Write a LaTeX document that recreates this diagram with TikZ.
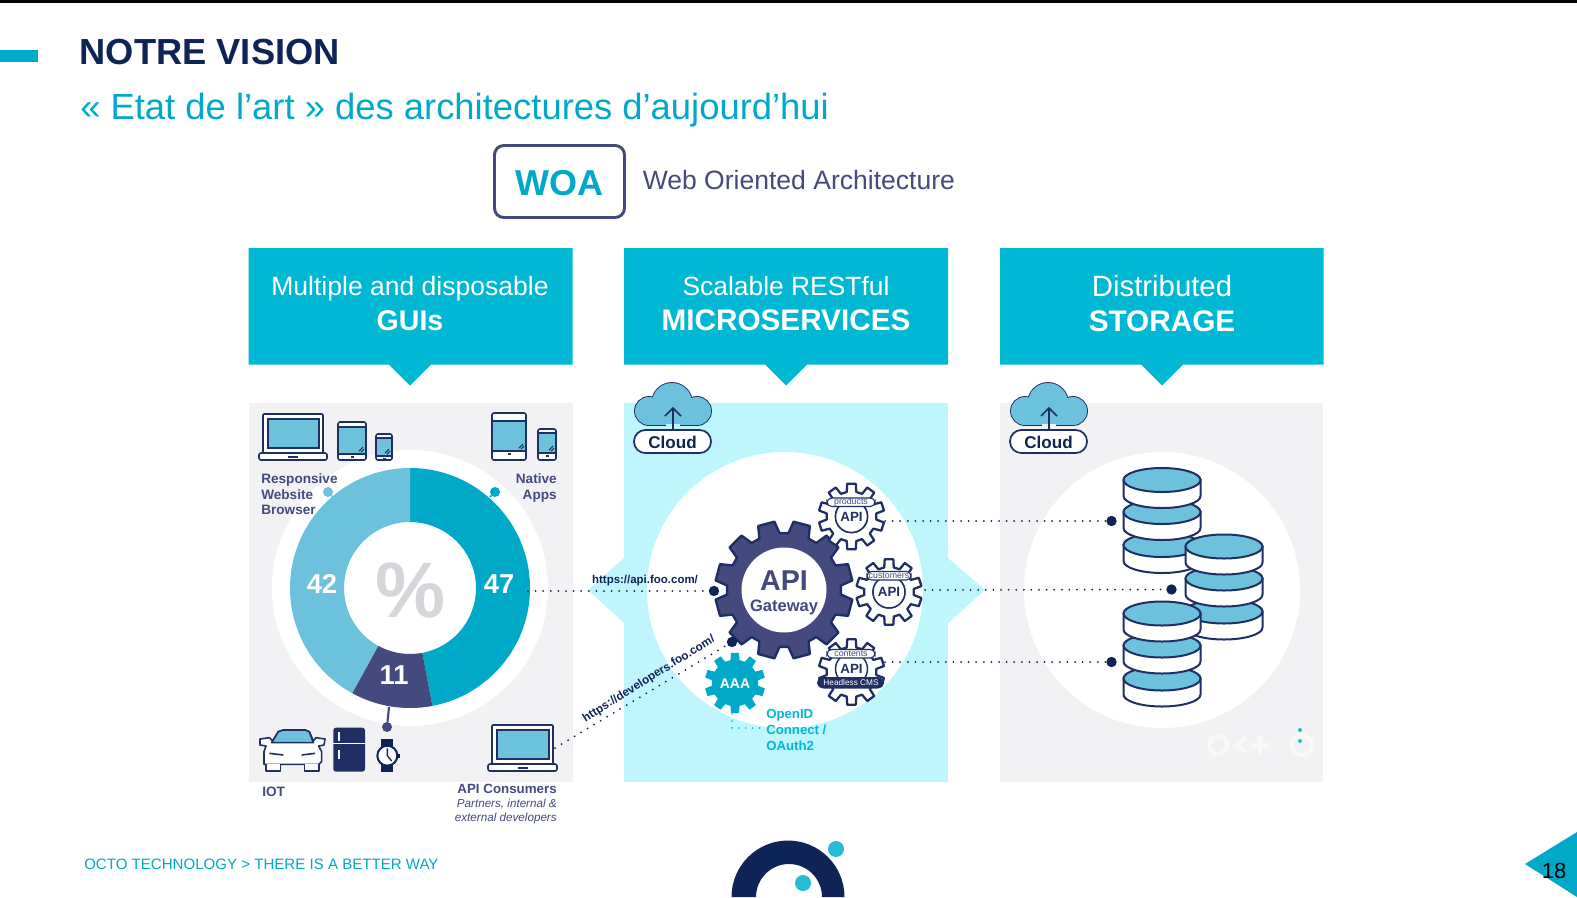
\documentclass[tikz,border=0pt]{standalone}
\usepackage{fontspec}
\setmainfont{Liberation Sans}
\definecolor{navy}{HTML}{0F2456}
\definecolor{ink}{HTML}{1F2F63}
\definecolor{plum}{HTML}{444A7D}
\definecolor{teal}{HTML}{00B8D4}
\definecolor{tealb}{HTML}{00A9C7}
\definecolor{sky}{HTML}{6CC1DC}
\definecolor{pale}{HTML}{BFF6FE}
\definecolor{panel}{HTML}{F2F2F5}
\definecolor{pct}{HTML}{D6D6DA}
\definecolor{logodot}{HTML}{26BCD7}
\newcommand{\fsz}[1]{\fontsize{#1pt}{#1pt}\selectfont}
\tikzset{
  lbl/.style={inner sep=0pt,anchor=base},
  lbll/.style={inner sep=0pt,anchor=base west},
  lblr/.style={inner sep=0pt,anchor=base east},
  dotline/.style={navy,line width=1.5pt,line cap=round,dash pattern=on 0pt off 5.7pt},
  tealline/.style={teal,line width=1.4pt,line cap=round,dash pattern=on 0pt off 5.2pt},
  bigdot/.style={circle,fill=navy,inner sep=0pt,minimum size=7.8pt},
  pill/.style={rounded corners=3.5pt,draw=ink,line width=0.8pt,fill=white},
  icon/.style={draw=ink,line width=1.2pt,line join=round},
  disk/.style={draw=ink,line width=1.5pt},
}
% gear: cx cy teeth Ro Rr offset baseHalf tipHalf style
\newcommand{\gearat}[9]{%
  \draw[shift={(#1,#2)},#9] ({#6-#7}:#5)
    \foreach \gi in {1,...,#3} {
      -- ({#6+(\gi-1)*360/#3-#7}:#5) -- ({#6+(\gi-1)*360/#3-#8}:#4)
      -- ({#6+(\gi-1)*360/#3+#8}:#4) -- ({#6+(\gi-1)*360/#3+#7}:#5)
    } -- cycle;}
% cloud: x offset from the left-hand cloud, background colour, node name
\newcommand{\cloudat}[3]{%
  \begin{scope}[xshift=#1*0.75pt]
    \draw[ink,line width=1.4pt] (649,411) circle (14) (672,403) circle (20) (697,411) circle (14) (649,425) -- (697,425);
    \fill[sky] (649,411) circle (14);
    \fill[sky] (672,403) circle (20);
    \fill[sky] (697,411) circle (14);
    \fill[sky] (649,405) rectangle (697,425);
    \fill[#2] (666,424) rectangle (680,430);
    \draw[ink,line width=1.2pt] (673,430) -- (673,409) (665,416) -- (673,408) -- (681,416);
    \draw[ink,line width=1.3pt,fill=white,rounded corners=8.5pt] (634,430) rectangle (711,453);
    \node[inner sep=0pt,navy,font=\bfseries\fsz{12.8}] (#3) at (672.5,442) {Cloud};
  \end{scope}}
% tablet: x1 y1 x2 y2 screen top, screen bottom
\newcommand{\tabletat}[6]{%
  \draw[icon,fill=white,rounded corners=1.5pt] (#1,#2) rectangle (#3,#4);
  \fill[sky] (#1+0.8,#5) rectangle (#3-0.8,#6);
  \draw[ink,line width=0.8pt] (#1,#5) -- (#3,#5) (#1,#6) -- (#3,#6);
  \draw[ink,line width=0.8pt] (#3-7,#6-3) -- (#3-3,#6-7) (#3-5,#6-2) -- (#3-2,#6-5);
  \fill[ink] ({(#1+#3)/2-1.5},#6+2) rectangle ({(#1+#3)/2+1.5},#6+3.5);}
% laptop: x1 y1 x2 y2 (lid) ; base runs 4 wider
\newcommand{\laptopat}[4]{%
  \draw[icon,fill=white] (#1,#4) -- (#1,#2+1) -- (#1+1,#2) -- (#3-1,#2) -- (#3,#2+1) -- (#3,#4);
  \draw[ink,line width=0.9pt,fill=sky] (#1+5,#2+5) rectangle (#3-4,#4-4);
  \draw[icon,fill=white,rounded corners=1.5pt] (#1-4,#4+1) -- (#3+4,#4+1) -- (#3+4,#4+8) -- (#1-4,#4+8) -- cycle;
  \fill[ink] ({(#1+#3)/2-5},#4+4) rectangle ({(#1+#3)/2+5},#4+5.5);}
% database disk: cx, top-ellipse cy
\newcommand{\diskat}[2]{%
  \draw[disk,fill=white] (#1-38.5,#2) -- (#1-38.5,#2+16) arc[start angle=180,end angle=0,x radius=38.5,y radius=12] -- (#1+38.5,#2) -- cycle;
  \draw[disk,fill=sky] (#1,#2) ellipse [x radius=38.5,y radius=12];}
\newcommand{\stackat}[2]{\diskat{#1}{#2+65}\diskat{#1}{#2+32}\diskat{#1}{#2}}
\begin{document}
\begin{tikzpicture}[x=0.75pt,y=-0.75pt]
\useasboundingbox (0,0) rectangle (1577,897);
\fill[white] (0,0) rectangle (1577,897);
\fill[black] (0,0) rectangle (1577,2.5);
\fill[tealb] (0,49.5) rectangle (38,61.5);
\node[lbll,navy,font=\bfseries\fsz{27.2}] (title) at (79.5,64.5) {NOTRE VISION};
\node[lbll,tealb,font=\fsz{27.3}] (sub) at (80,119) {« Etat de l’art » des architectures d’aujourd’hui};
\draw[plum,line width=2.2pt,rounded corners=7pt] (494.5,145.5) rectangle (624.5,217.5);
\node[lbl,tealb,font=\bfseries\fsz{27}] (woa) at (559.5,195) {WOA};
\node[lbll,plum,font=\fsz{19.9}] (woat) at (642.5,189) {Web Oriented Architecture};

% panels
\fill[panel] (248.5,403) rectangle (573,782);
\fill[pale] (624,403) rectangle (948,782);
\fill[pale] (624,558) -- (588,590) -- (624,623) -- cycle;
\fill[pale] (948,558) -- (985,590) -- (948,623) -- cycle;
\fill[panel] (1000,403) rectangle (1323,782);
\fill[white] (410,588) circle (138);
\fill[white] (785,590) circle (138);
\fill[white] (1162,590) circle (138);

% headers
\foreach \hl/\hc/\hr in {248.5/410/572.5,624/786/948,1000/1162/1323.5}
  \fill[teal] (\hl,248) -- (\hr,248) -- (\hr,364.5) -- (\hc+21,364.5) -- (\hc,385.5) -- (\hc-21,364.5) -- (\hl,364.5) -- cycle;
\node[lbl,white,font=\fsz{19.9}] (h1a) at (410,295.5) {Multiple and disposable};
\node[lbl,white,font=\bfseries\fsz{21.4}] (h1b) at (410,330) {GUIs};
\node[lbl,white,font=\fsz{19.8}] (h2a) at (786,295.5) {Scalable RESTful};
\node[lbl,white,font=\bfseries\fsz{22.3}] (h2b) at (786,330) {MICROSERVICES};
\node[lbl,white,font=\fsz{22}] (h3a) at (1162,296) {Distributed};
\node[lbl,white,font=\bfseries\fsz{22.3}] (h3b) at (1162,331) {STORAGE};

% donut
\fill[tealb] (410,468) arc[start angle=-90,end angle=79.2,radius=120] -- ({410+66*cos(79.2)},{588+66*sin(79.2)}) arc[start angle=79.2,end angle=-90,radius=66] -- cycle;
\fill[plum] ({410+120*cos(79.2)},{588+120*sin(79.2)}) arc[start angle=79.2,end angle=118.8,radius=120] -- ({410+66*cos(118.8)},{588+66*sin(118.8)}) arc[start angle=118.8,end angle=79.2,radius=66] -- cycle;
\fill[sky] ({410+120*cos(118.8)},{588+120*sin(118.8)}) arc[start angle=118.8,end angle=270,radius=120] -- (410,522) arc[start angle=270,end angle=118.8,radius=66] -- cycle;
\node[inner sep=0pt,pct,font=\bfseries\fsz{59}] (pc) at (410,590) {\%};
\node[lbl,white,font=\bfseries\fsz{20.5}] (n42) at (322,593) {42};
\node[lbl,white,font=\bfseries\fsz{20.5}] (n47) at (499,593) {47};
\node[lbl,white,font=\bfseries\fsz{20.5}] (n11) at (394,684.5) {11};

% donut leaders
\node[circle,fill=sky,inner sep=0pt,minimum size=7.5pt] (dl) at (328,492) {};
\node[circle,fill=tealb,inner sep=0pt,minimum size=7.5pt] (dn) at (495,492) {};
\node[circle,fill=plum,inner sep=0pt,minimum size=7.5pt] (di) at (387,727) {};
\coordinate (dl2) at (333,497);
\coordinate (dn2) at (490,497);
\coordinate (di2) at (389,707);
\draw[sky,line width=1.2pt] (dl) -- (dl2);
\draw[tealb,line width=1.2pt] (dn) -- (dn2);
\draw[plum,line width=1.6pt] (di) -- (di2);

% device icons
\laptopat{263}{414}{323}{452}
\tabletat{338}{422}{366}{460}{427}{454}
\tabletat{376}{434}{392}{460}{438}{456}
\tabletat{492}{413}{526}{460}{421}{451}
\tabletat{538}{429}{556}{460}{433}{453}
\node[lbll,plum,font=\bfseries\fsz{10.2}] (r1) at (261,483) {Responsive};
\node[lbll,plum,font=\bfseries\fsz{10.2}] (r2) at (261,499) {Website};
\node[lbll,plum,font=\bfseries\fsz{10.2}] (r3) at (261,514.5) {Browser};
\node[lblr,plum,font=\bfseries\fsz{10.2}] (na) at (557,483) {Native};
\node[lblr,plum,font=\bfseries\fsz{10.2}] (nb) at (557,499) {Apps};

% IOT icons
\begin{scope}[shift={(250,715)},x=0.25pt,y=-0.25pt]
  \draw[icon,fill=white] (48,93) -- (30,90) -- (30,72) -- (58,68) -- (68,78) -- (85,50) -- (100,45) -- (165,45) -- (178,50) -- (190,78) -- (198,68) -- (225,72) -- (222,90) -- (206,93) -- (215,110) -- (215,140) -- (207,148) -- (42,148) -- (42,110) -- cycle;
  \draw[icon,fill=white] (48,148) -- (48,168) -- (92,168) -- (92,148);
  \draw[icon,fill=white] (163,148) -- (163,168) -- (207,168) -- (207,148);
  \draw[icon,fill=sky] (65,83) -- (85,50) -- (100,45) -- (165,45) -- (178,50) -- (190,83) -- cycle;
  \draw[icon] (58,115) -- (100,120) (155,120) -- (195,115);
  \fill[ink,rounded corners=2pt] (250,38) rectangle (345,170);
  \draw[white,line width=1pt] (250,85) -- (345,85) (267,52) -- (267,78) (267,105) -- (267,132);
  \fill[navy] (392,73) rectangle (428,170);
  \fill[navy] (440,116) rectangle (449,128);
  \draw[navy,line width=1.5pt,fill=white] (412,122) circle (30);
  \draw[navy,line width=1pt] (412,100) -- (412,122) -- (425,138);
\end{scope}
\laptopat{492}{725}{553}{763}
\node[lbll,plum,font=\bfseries\fsz{10.2}] (iot) at (262,796) {IOT};
\node[lblr,plum,font=\bfseries\fsz{10}] (ac) at (557,793) {API Consumers};
\node[lblr,plum,font=\itshape\fsz{8.75}] (ac2) at (557,807) {Partners, internal \&};
\node[lblr,plum,font=\itshape\fsz{8.75}] (ac3) at (557,821) {external developers};

% clouds
\cloudat{0}{pale}{cl1}
\cloudat{376}{panel}{cl2}

% gears
\gearat{784}{590}{12}{69}{57}{15}{10.5}{7}{fill=plum,draw=ink,line width=1.8pt,line join=round}
\fill[white] (784,590) circle (42.5);
\node[lbl,plum,font=\bfseries\fsz{21.5}] (gw1) at (784,590) {API};
\node[lbl,plum,font=\bfseries\fsz{12.4}] (gw2) at (784,611) {Gateway};
\foreach \gx/\gy/\go in {851.5/516.5/-90,889/592/-90,851.5/672/-90}
  \gearat{\gx}{\gy}{10}{33}{25}{\go}{11}{7.5}{fill=white,draw=ink,line width=1.7pt,line join=round}
\foreach \gx/\gy in {851.5/516.5,889/592,851.5/669}
  \draw[ink,line width=1.1pt,fill=white] (\gx,\gy) circle (16);
\node[inner sep=0pt,ink,font=\bfseries\fsz{10}] (a1) at (851.5,516.5) {API};
\node[inner sep=0pt,ink,font=\bfseries\fsz{10}] (a2) at (889,592) {API};
\node[inner sep=0pt,ink,font=\bfseries\fsz{10}] (a3) at (851.5,669) {API};
\draw[pill] (827,498) rectangle (875,506.5);
\draw[pill] (867,571.5) rectangle (911,580);
\draw[pill] (827,649.5) rectangle (875,658);
\fill[ink,rounded corners=5pt] (817,677) rectangle (884,688.5);
\node[inner sep=0pt,plum,font=\fsz{6.6}] (p1) at (851,502) {products};
\node[inner sep=0pt,plum,font=\fsz{6.6}] (p2) at (889,576) {customers};
\node[inner sep=0pt,plum,font=\fsz{6.6}] (p3) at (851,654) {contents};
\node[inner sep=0pt,white,font=\fsz{6.2}] (p4) at (851,683) {Headless CMS};
\gearat{735}{683}{10}{30}{23}{-90}{10.5}{7}{fill=tealb,draw=tealb,line width=0.5pt,line join=round}
\node[inner sep=0pt,white,font=\bfseries\fsz{10.5}] (aaa) at (735,684) {AAA};
\node[lbll,teal,font=\bfseries\fsz{9.9}] (o1) at (766,718.5) {OpenID};
\node[lbll,teal,font=\bfseries\fsz{9.9}] (o2) at (766,734.5) {Connect /};
\node[lbll,teal,font=\bfseries\fsz{9.9}] (o3) at (766,750) {OAuth2};
\coordinate (aaab) at (732,714);
\coordinate (aaac) at (732,728);
\coordinate (aaad) at (765,728);
\draw[tealline] (aaab) -- (aaac) -- (aaad);

% databases
\stackat{1162}{480}
\stackat{1224}{546.5}
\stackat{1162}{613.5}

% connectors
\node[bigdot] (gwa) at (714,591) {};
\node[bigdot] (gwb) at (732,642) {};
\node[bigdot] (db1) at (1111.5,521) {};
\node[bigdot] (db2) at (1171.5,589.5) {};
\node[bigdot] (db3) at (1111.5,662) {};
\coordinate (pie47) at (528,591);
\coordinate (lap2) at (555,748);
\coordinate (apia) at (885,521);
\coordinate (apib) at (925,590);
\coordinate (apic) at (885,662);
\draw[dotline] (pie47) -- (gwa);
\draw[dotline] (lap2) -- (gwb);
\draw[dotline] (apia) -- (db1);
\draw[dotline] (apib) -- (db2);
\draw[dotline] (apic) -- (db3);
\node[inner sep=0pt,navy,font=\bfseries\fsz{8.6}] (u1) at (645,581) {https://api.foo.com/};
\node[inner sep=0pt,navy,font=\bfseries\fsz{8.8},rotate=32] (u2) at (649,679) {https://developers.foo.com/};

% watermark
\begin{scope}[line width=3pt]
  \draw[white!45!panel] (1218,745) circle (9);
  \draw[white!45!panel] (1246,738) -- (1236,745) -- (1246,752);
  \draw[white!45!panel] (1250,745) -- (1270,745) (1260,735) -- (1260,755);
  \draw[white!45!panel] (1302,745) circle (10);
\end{scope}
\fill[logodot] (1300,730) circle (2);
\fill[logodot] (1300,741) circle (2);

% footer
\node[lbll,tealb,font=\fsz{11.3}] (foot) at (84,869) {OCTO TECHNOLOGY > THERE IS A BETTER WAY};
\fill[navy] (731.5,897) arc[start angle=180,end angle=360,radius=56.5] -- (822,897) arc[start angle=360,end angle=180,radius=33] -- cycle;
\fill[logodot] (836,849) circle (8);
\fill[logodot] (803,883) circle (8);
\fill[tealb] (1577,832) -- (1525,864) -- (1577,897) -- cycle;
\node[lbl,black,font=\fsz{16.5}] (pg) at (1554,878) {18};
\end{tikzpicture}
\end{document}
